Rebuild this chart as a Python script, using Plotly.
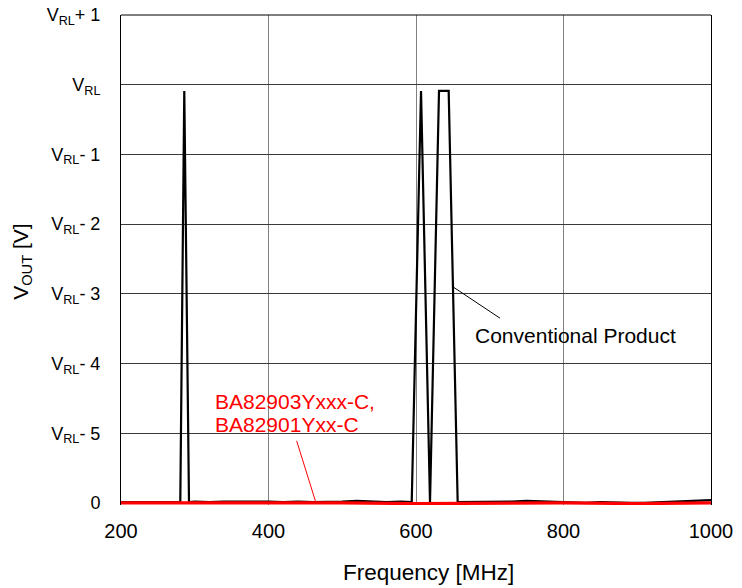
"""VOUT vs frequency: conventional product against BA82903Yxxx-C / BA82901Yxx-C."""

import plotly.graph_objects as go

# Conventional product (black trace)
freq_conv = [200, 215, 230, 245, 260, 275, 280.4, 285.8, 292.2, 300, 320, 340,
             360, 380, 400, 420, 440, 460, 480, 500, 520, 540, 560, 580, 594.2,
             606.8, 619, 631.2, 644.3, 656.5, 670, 690, 710, 730, 750, 770, 790,
             810, 830, 850, 870, 890, 910, 930, 950, 970, 990, 1000]
vout_conv = [0.01, 0.01, 0.02, 0.01, 0.01, 0.02, 0.01, 5.91, 0.01, 0.02, 0.01,
             0.02, 0.02, 0.03, 0.02, 0.01, 0.02, 0.01, 0.01, 0.02, 0.03, 0.02,
             0.01, 0.02, 0.01, 5.91, 0.01, 5.91, 5.91, 0.01, 0.01, 0.02, 0.01,
             0.02, 0.03, 0.02, 0.01, 0.01, 0.0, 0.01, 0.0, 0.0, 0.0, 0.01,
             0.01, 0.02, 0.03, 0.04]

# BA82903Yxxx-C / BA82901Yxx-C (red trace)
freq_new = [200, 300, 400, 500, 600, 700, 800, 900, 1000]
vout_new = [0.0, 0.0, 0.01, 0.0, -0.01, 0.0, 0.0, -0.01, 0.0]

tick_vals = [0, 1, 2, 3, 4, 5, 6, 7]
tick_text = [
    "0",
    "V<sub>RL</sub>- 5",
    "V<sub>RL</sub>- 4",
    "V<sub>RL</sub>- 3",
    "V<sub>RL</sub>- 2",
    "V<sub>RL</sub>- 1",
    "V<sub>RL</sub>",
    "V<sub>RL</sub>+ 1",
]
x_ticks = [200, 400, 600, 800, 1000]

FONTE = "Liberation Sans, Arial, sans-serif"
COR_TEXTO = "#000000"
COR_VERMELHO = "#FF0000"

fig = go.Figure()
fig.add_trace(go.Scatter(
    x=freq_conv, y=vout_conv, mode="lines",
    line={"color": "#000000", "width": 2.2},
    showlegend=False, hoverinfo="skip",
))
fig.add_trace(go.Scatter(
    x=freq_new, y=vout_new, mode="lines",
    line={"color": COR_VERMELHO, "width": 3.2},
    showlegend=False, hoverinfo="skip",
))

# labels + leader lines
fig.add_annotation(
    x=677, y=2.40, xref="x", yref="y", text="Conventional Product",
    showarrow=False, xanchor="left", yanchor="middle",
    font={"family": FONTE, "size": 21, "color": COR_TEXTO},
)
fig.add_shape(type="line", xref="x", yref="y", x0=651.5, y0=3.09, x1=713.9,
              y1=2.65, line={"color": "#000000", "width": 1})
for texto, pos_y in (("BA82903Yxxx-C,", 1.45), ("BA82901Yxx-C", 1.12)):
    fig.add_annotation(
        x=324.7, y=pos_y, xref="x", yref="y", text=texto,
        showarrow=False, xanchor="left", yanchor="middle",
        font={"family": FONTE, "size": 21, "color": COR_VERMELHO},
    )
fig.add_shape(type="line", xref="x", yref="y", x0=438.2, y0=0.89, x1=464.4,
              y1=0.0, line={"color": COR_VERMELHO, "width": 1})

# top frame (bottom edge is covered by the red trace)
fig.add_shape(type="line", xref="paper", yref="paper", x0=0, y0=1, x1=1, y1=1,
              line={"color": "#000000", "width": 1})

# axis titles placed as annotations
fig.add_annotation(
    x=0.522, y=-0.138, xref="paper", yref="paper", text="Frequency [MHz]",
    showarrow=False, xanchor="center", yanchor="middle",
    font={"family": FONTE, "size": 22.5, "color": COR_TEXTO},
)
fig.add_annotation(
    x=-0.168, y=0.498, xref="paper", yref="paper",
    text="V<sub>OUT</sub> [V]", textangle=-90,
    showarrow=False, xanchor="center", yanchor="middle",
    font={"family": FONTE, "size": 21, "color": COR_TEXTO},
)

fig.update_xaxes(
    range=[200, 1000], tickvals=x_ticks, ticks="", automargin=False,
    showline=False, showgrid=True, gridcolor="#808080", gridwidth=1,
    zeroline=False, ticklabelstandoff=12,
    tickfont={"family": FONTE, "size": 20, "color": COR_TEXTO},
)
fig.update_yaxes(
    range=[-0.03, 7], tickvals=tick_vals, ticktext=tick_text, ticks="",
    automargin=False,
    showline=True, mirror=True, linecolor="#000000", linewidth=1,
    showgrid=True, gridcolor="#3a3a3a", gridwidth=1, zeroline=False,
    ticklabelstandoff=16,
    tickfont={"family": FONTE, "size": 18, "color": COR_TEXTO},
)
fig.update_layout(
    width=742, height=588,
    margin={"l": 121, "r": 31, "t": 15, "b": 83},
    paper_bgcolor="#FFFFFF", plot_bgcolor="#FFFFFF",
    font={"family": FONTE, "color": COR_TEXTO},
)

# the page's default body margin would shift the figure by 8 px
fig.write_html(
    "out.html",
    config={"displayModeBar": False},
    post_script="document.body.style.margin = '0';",
)
